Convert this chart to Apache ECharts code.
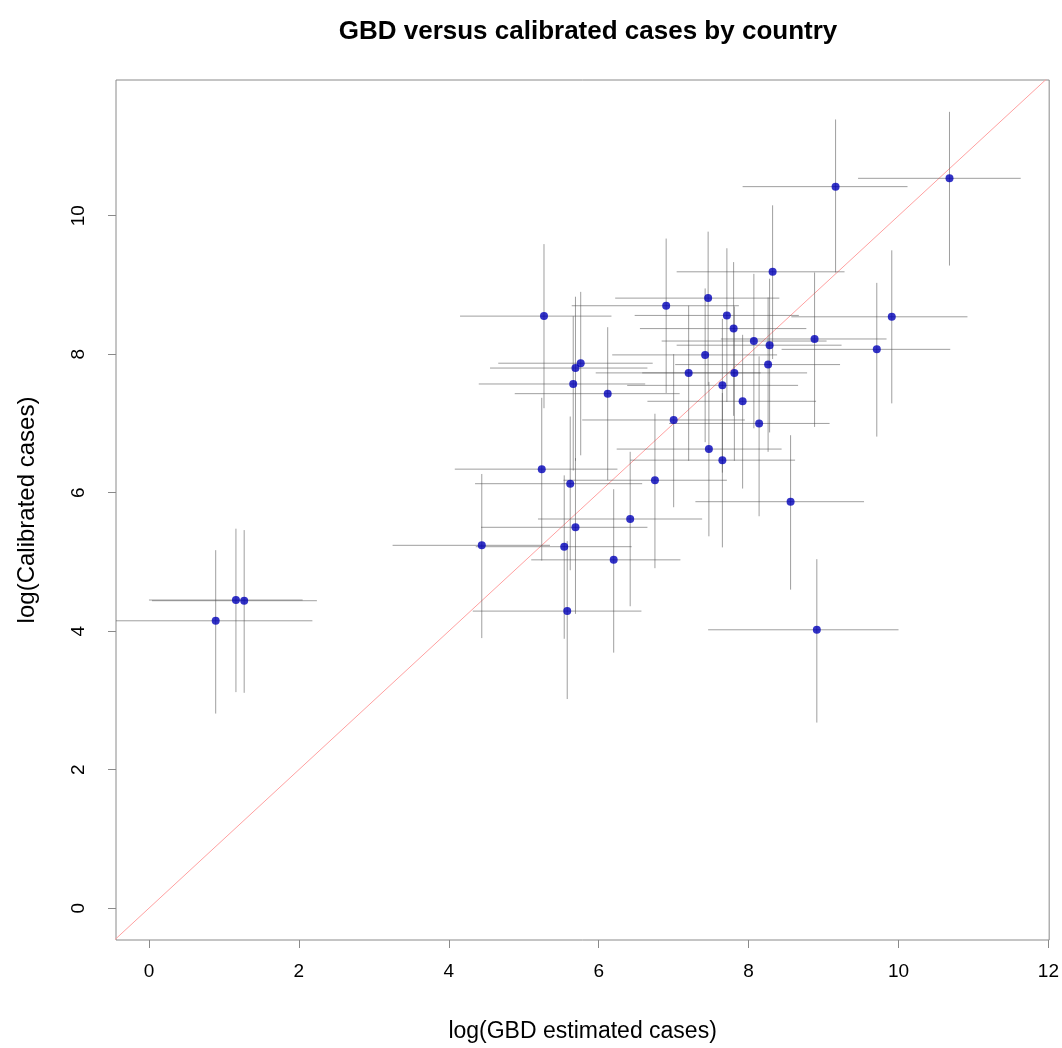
<!DOCTYPE html>
<html>
<head>
<meta charset="utf-8">
<title>GBD versus calibrated cases by country</title>
<script src="https://cdn.jsdelivr.net/npm/echarts@6/dist/echarts.min.js"></script>
<style>
  html, body { margin: 0; padding: 0; background: #fff; }
  #chart { width: 1062px; height: 1048px; }
</style>
</head>
<body>
<div id="chart"></div>
<script>
  // log GBD estimate per country, with its interval
  const gbd     = [0.89, 1.16, 1.27, 4.44, 5.24, 5.27, 5.54, 5.58, 5.62, 5.66, 5.69, 5.69, 5.76, 6.12, 6.20, 6.42, 6.75, 6.90, 7.00, 7.20, 7.42, 7.46, 7.47, 7.65, 7.65, 7.71, 7.80, 7.81, 7.92, 8.07, 8.14, 8.26, 8.28, 8.32, 8.56, 8.88, 8.91, 9.16, 9.71, 9.91, 10.68];
  const gbdLow  = [-0.55, 0.00, 0.04, 3.25, 4.08, 4.15, 4.36, 4.32, 4.35, 4.40, 4.55, 4.43, 4.66, 4.88, 5.10, 5.19, 5.53, 5.64, 5.78, 5.96, 6.18, 6.22, 6.24, 6.38, 6.42, 6.48, 6.55, 6.58, 6.65, 6.84, 6.94, 7.02, 7.04, 7.04, 7.29, 7.63, 7.46, 7.92, 8.44, 8.57, 9.46];
  const gbdHigh = [2.18, 2.05, 2.24, 5.35, 6.25, 6.17, 6.44, 6.57, 6.58, 6.62, 6.65, 6.65, 6.72, 7.08, 7.09, 7.38, 7.71, 7.87, 7.95, 8.16, 8.38, 8.41, 8.44, 8.66, 8.62, 8.67, 8.77, 8.78, 8.90, 9.04, 9.08, 9.22, 9.24, 9.28, 9.54, 9.84, 10.00, 10.12, 10.69, 10.92, 11.63];
  // log calibrated cases, with its interval
  const cal     = [4.15, 4.45, 4.44, 5.24, 6.34, 8.55, 5.22, 4.29, 6.13, 7.57, 7.80, 5.50, 7.87, 7.43, 5.03, 5.62, 6.18, 8.70, 7.05, 7.73, 7.99, 8.81, 6.63, 7.55, 6.47, 8.56, 8.37, 7.73, 7.32, 8.19, 7.00, 7.85, 8.13, 9.19, 5.87, 8.22, 4.02, 10.42, 8.07, 8.54, 10.54];
  const calLow  = [2.81, 3.12, 3.11, 3.90, 5.02, 7.22, 3.89, 3.02, 4.88, 6.32, 6.46, 4.25, 6.54, 6.18, 3.69, 4.36, 4.91, 7.44, 5.79, 6.46, 6.73, 7.55, 5.37, 6.29, 5.21, 7.31, 7.11, 6.46, 6.06, 6.93, 5.66, 6.59, 6.87, 7.93, 4.60, 6.95, 2.68, 9.18, 6.81, 7.29, 9.28];
  const calHigh = [5.17, 5.48, 5.46, 6.27, 7.37, 9.59, 6.25, 5.30, 7.10, 8.55, 8.83, 6.50, 8.90, 8.39, 6.05, 6.59, 7.14, 9.67, 8.00, 8.70, 8.95, 9.77, 7.60, 8.51, 7.44, 9.53, 9.33, 8.69, 8.28, 9.16, 7.97, 8.82, 9.09, 10.15, 6.83, 9.18, 5.04, 11.39, 9.03, 9.50, 11.50];

  const xTicks = [0, 2, 4, 6, 8, 10, 12];
  const yTicks = [0, 2, 4, 6, 8, 10];
  const refLine = [-1, 13];  // y = x

  let points = [];
  let bars = [];
  for (let i = 0; i < gbd.length; i++) {
    points.push([gbd[i], cal[i]]);
    bars.push([gbd[i], cal[i], gbdLow[i], gbdHigh[i], calLow[i], calHigh[i]]);
  }

  let font = 'Liberation Sans, Arial, sans-serif';
  let boxColor = '#8a8a8a';

  let option = {
    backgroundColor: '#fff',
    animation: false,
    title: {
      text: 'GBD versus calibrated cases by country',
      left: 583,
      top: 14,
      textAlign: 'center',
      textStyle: { fontFamily: font, fontSize: 26, fontWeight: 'bold', color: '#000' }
    },
    grid: {
      left: 116,
      right: 12,
      top: 80,
      bottom: 106,
      show: true,
      borderColor: boxColor,
      borderWidth: 1,
      backgroundColor: 'transparent'
    },
    xAxis: {
      type: 'value',
      min: -0.44,
      max: 12.01,
      name: 'log(GBD estimated cases)',
      nameLocation: 'middle',
      nameGap: 80,
      nameTextStyle: { fontFamily: font, fontSize: 23, color: '#000' },
      axisLine: { show: false, onZero: false },
      axisTick: { show: true, customValues: xTicks, length: 8, lineStyle: { color: boxColor } },
      axisLabel: { customValues: xTicks, fontFamily: font, fontSize: 19, color: '#000', margin: 22 },
      splitLine: { show: false }
    },
    yAxis: {
      type: 'value',
      min: -0.46,
      max: 11.96,
      name: 'log(Calibrated cases)',
      nameLocation: 'middle',
      nameRotate: 90,
      nameGap: 77,
      nameTextStyle: { fontFamily: font, fontSize: 24, color: '#000' },
      axisLine: { show: false, onZero: false },
      axisTick: { show: true, customValues: yTicks, length: 8, lineStyle: { color: boxColor } },
      axisLabel: { customValues: yTicks, rotate: 90, fontFamily: font, fontSize: 19, color: '#000', margin: 28 },
      splitLine: { show: false }
    },
    series: [
      {
        type: 'line',
        data: [[refLine[0], refLine[0]], [refLine[1], refLine[1]]],
        symbol: 'none',
        silent: true,
        clip: true,
        lineStyle: { color: '#ffa0a0', width: 1 },
        z: 1
      },
      {
        type: 'custom',
        data: bars,
        clip: true,
        silent: true,
        encode: { x: [0, 2, 3], y: [1, 4, 5] },
        renderItem: function (params, api) {
          let x = api.value(0);
          let y = api.value(1);
          let left = api.coord([api.value(2), y]);
          let right = api.coord([api.value(3), y]);
          let bottom = api.coord([x, api.value(4)]);
          let top = api.coord([x, api.value(5)]);
          let style = { stroke: 'rgba(80,80,80,0.55)', lineWidth: 1 };
          return {
            type: 'group',
            children: [
              { type: 'line', shape: { x1: left[0], y1: left[1], x2: right[0], y2: right[1] }, style: style },
              { type: 'line', shape: { x1: top[0], y1: top[1], x2: bottom[0], y2: bottom[1] }, style: style }
            ]
          };
        },
        z: 2
      },
      {
        type: 'scatter',
        data: points,
        symbol: 'circle',
        symbolSize: 8,
        itemStyle: { color: '#0000b8' },
        z: 3
      }
    ]
  };

  let chart = echarts.init(document.getElementById('chart'));
  chart.setOption(option);
  window.addEventListener('resize', function () {
    chart.resize();
  }, false);
</script>
</body>
</html>
